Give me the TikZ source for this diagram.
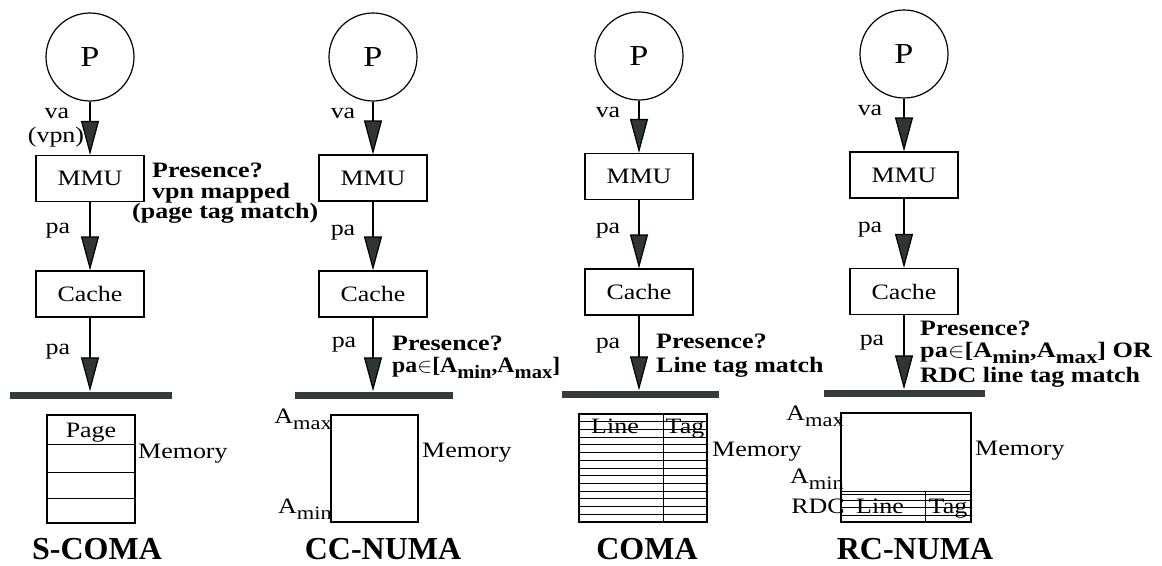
\documentclass[tikz,border=0pt]{standalone}
\usepackage{fontspec}
\setmainfont{Liberation Serif}
\usepackage{graphicx}
\usetikzlibrary{arrows.meta}
\definecolor{headc}{HTML}{2D3632}
\definecolor{barc}{HTML}{353B39}
\newcommand{\hs}[1]{\scalebox{1.18}[1]{#1}}
\newcommand{\sbs}[1]{\raisebox{-0.28em}{\fontsize{19}{19}\selectfont #1}}
\newcommand{\fitw}[2]{\resizebox{#1}{\height}{#2}}
\begin{document}
\begin{tikzpicture}[x=1pt,y=-1pt,
  proc/.style={circle,draw,line width=1.2pt,minimum size=88pt,inner sep=0pt,font=\fontsize{29}{29}\selectfont},
  unit/.style={draw,line width=1.2pt,minimum width=108pt,minimum height=46pt,inner sep=0pt,font=\fontsize{22}{22}\selectfont},
  bus/.style={fill=barc,minimum height=7pt,inner sep=0pt,draw=none},
  lab/.style={font=\fontsize{22}{22}\selectfont,inner sep=0pt,anchor=base},
  blab/.style={font=\fontsize{22}{22}\selectfont\bfseries,inner sep=0pt,anchor=base west},
  rlab/.style={font=\fontsize{22}{22}\selectfont,inner sep=0pt,anchor=base east},
  mlab/.style={font=\fontsize{22}{22}\selectfont,inner sep=0pt,anchor=base west},
  ttl/.style={font=\fontsize{32}{32}\selectfont\bfseries,inner sep=0pt,anchor=base},
  flow/.style={line width=1.2pt,-{Triangle[length=34pt,width=18pt,fill=headc]}},
  mem/.style={draw,line width=1.2pt,inner sep=0pt},
  grid/.style={line width=1pt},
]
\useasboundingbox (0,0) rectangle (1162,565);

% ---------------- S-COMA ----------------
\node[proc] (p1) at (90,57) {\hs{P}};
\node[unit] (mmu1) at (90,178.5) {\hs{MMU}};
\node[unit] (cache1) at (90,294) {\hs{Cache}};
\node[bus,minimum width=162pt] (bus1) at (91,395) {};
\draw[flow] (p1) -- (mmu1);
\draw[flow] (mmu1) -- (cache1);
\draw[flow] (cache1) -- (cache1 |- bus1.north);
\node[lab] (va1) at (57,118) {\hs{va}};
\node[lab] (vpn1) at (56,142) {\hs{(vpn)}};
\node[lab] (pa1a) at (58,233) {\hs{pa}};
\node[lab] (pa1b) at (58,354) {\hs{pa}};
\node[blab] (pr1a) at (152,177) {\hs{Presence?}};
\node[blab] (pr1b) at (152,198) {\hs{vpn mapped}};
\node[blab] (pr1c) at (132,218) {\hs{(page tag match)}};
\node[mem,minimum width=88pt,minimum height=108pt] (mem1) at (91,469) {};
\draw[grid] (47,444) -- (135,444);
\draw[grid] (47,472) -- (135,472);
\draw[grid] (47,498) -- (135,498);
\node[lab] (pg1) at (91,437) {\hs{Page}};
\node[mlab] (ml1) at (138,458) {\hs{Memory}};
\node[ttl] (t1) at (97,559) {S-COMA};

% ---------------- CC-NUMA ----------------
\node[proc] (p2) at (373,57) {\hs{P}};
\node[unit] (mmu2) at (373,178) {\hs{MMU}};
\node[unit] (cache2) at (373,294) {\hs{Cache}};
\node[bus,minimum width=158pt] (bus2) at (374,395) {};
\draw[flow] (p2) -- (mmu2);
\draw[flow] (mmu2) -- (cache2);
\draw[flow] (cache2) -- (cache2 |- bus2.north);
\node[lab] (va2) at (343,118) {\hs{va}};
\node[lab] (pa2a) at (343,235) {\hs{pa}};
\node[lab] (pa2b) at (344,347) {\hs{pa}};
\node[blab] (pr2a) at (392,350) {\hs{Presence?}};
\node[blab] (pr2b) at (392,372) {\fitw{168pt}{pa$\in$[A\sbs{min},A\sbs{max}]}};
\node[mem,minimum width=87pt,minimum height=107pt] (mem2) at (374.5,468.5) {};
\node[rlab] (amax2) at (332,423) {\hs{A\sbs{max}}};
\node[rlab] (amin2) at (332,513) {\hs{A\sbs{min}}};
\node[mlab] (ml2) at (422,457) {\hs{Memory}};
\node[ttl] (t2) at (383,559) {CC-NUMA};

% ---------------- COMA ----------------
\node[proc] (p3) at (639,56) {\hs{P}};
\node[unit] (mmu3) at (639,176.5) {\hs{MMU}};
\node[unit] (cache3) at (639,292) {\hs{Cache}};
\node[bus,minimum width=157pt] (bus3) at (640.5,394) {};
\draw[flow] (p3) -- (mmu3);
\draw[flow] (mmu3) -- (cache3);
\draw[flow] (cache3) -- (cache3 |- bus3.north);
\node[lab] (va3) at (608,117) {\hs{va}};
\node[lab] (pa3a) at (608,233) {\hs{pa}};
\node[lab] (pa3b) at (608,348) {\hs{pa}};
\node[blab] (pr3a) at (656,348) {\hs{Presence?}};
\node[blab] (pr3b) at (656,372) {\hs{Line tag match}};
\node[mem,minimum width=128pt,minimum height=108pt] (mem3) at (643,468) {};
\foreach \i in {1,...,13} \draw[grid] (579,{414+\i*108/14}) -- (707,{414+\i*108/14});
\draw[grid] (663,414) -- (663,522);
\node[lab] (ln3) at (615,433) {\hs{Line}};
\node[lab] (tg3) at (685,433) {\hs{Tag}};
\node[mlab] (ml3) at (712,456) {\hs{Memory}};
\node[ttl] (t3) at (647,559) {COMA};

% ---------------- RC-NUMA ----------------
\node[proc] (p4) at (904,54) {\hs{P}};
\node[unit] (mmu4) at (904,175) {\hs{MMU}};
\node[unit] (cache4) at (904,291.5) {\hs{Cache}};
\node[bus,minimum width=161pt] (bus4) at (904.5,393) {};
\draw[flow] (p4) -- (mmu4);
\draw[flow] (mmu4) -- (cache4);
\draw[flow] (cache4) -- (cache4 |- bus4.north);
\node[lab] (va4) at (870,115) {\hs{va}};
\node[lab] (pa4a) at (870,232) {\hs{pa}};
\node[lab] (pa4b) at (872,345) {\hs{pa}};
\node[blab] (pr4a) at (920,335) {\hs{Presence?}};
\node[blab] (pr4b) at (920,357) {\fitw{232pt}{pa$\in$[A\sbs{min},A\sbs{max}] OR}};
\node[blab] (pr4c) at (920,382) {\hs{RDC line tag match}};
\node[mem,minimum width=130pt,minimum height=109pt] (mem4) at (906,467.5) {};
\foreach \yy in {491,494,500,507.5,515} \draw[grid] (841,\yy) -- (971,\yy);
\draw[grid] (925,491) -- (925,522);
\node[lab] (ln4) at (880,513) {\hs{Line}};
\node[lab] (tg4) at (948,513) {\hs{Tag}};
\node[rlab] (amax4) at (844,420) {\hs{A\sbs{max}}};
\node[rlab] (amin4) at (844,483) {\hs{A\sbs{min}}};
\node[rlab] (rdc4) at (845,513) {\hs{RDC}};
\node[mlab] (ml4) at (975,455) {\hs{Memory}};
\node[ttl] (t4) at (915,559) {RC-NUMA};
\end{tikzpicture}
\end{document}
